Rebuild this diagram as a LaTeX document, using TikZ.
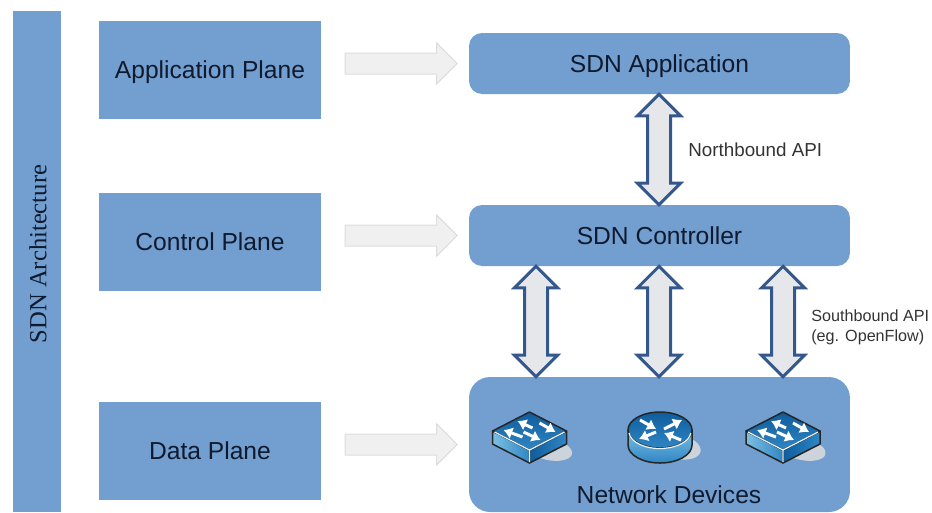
\documentclass[tikz,border=0pt]{standalone}
\usepackage{fontspec}
\setmainfont{Liberation Sans}
\newfontfamily\serifface{Liberation Serif}
\usetikzlibrary{calc,shapes.arrows,arrows.meta}
\definecolor{planeblue}{HTML}{729FCF}
\definecolor{inkblue}{HTML}{101A2E}
\definecolor{busline}{HTML}{34588C}
\definecolor{busfill}{HTML}{E6E7EB}
\definecolor{flowfill}{HTML}{F0F0F0}
\definecolor{flowline}{HTML}{DDDDDD}
\definecolor{chipdark}{HTML}{0F5C9C}
\definecolor{chipmid}{HTML}{2F86C4}
\definecolor{chiplight}{HTML}{7CC0E4}
\definecolor{iconshade}{HTML}{CDD3DA}
\tikzset{
	plane/.style = {fill=planeblue, minimum width=4.44cm, minimum height=1.96cm, text=inkblue, text height=10pt, text depth=0pt, font=\fontsize{14}{16}\selectfont},
	block/.style = {fill=planeblue, rounded corners=.26cm, minimum width=7.62cm, minimum height=1.22cm, text=inkblue, text height=10pt, text depth=0pt, font=\fontsize{14}{16}\selectfont},
	bus/.style = {double arrow, draw=busline, fill=busfill, line width=.06cm, minimum width=.8cm, double arrow head extend=.2cm, inner sep=.2cm, rotate=90},
	flow/.style = {single arrow, draw=flowline, fill=flowfill, line width=.02cm, minimum width=.8cm, single arrow head extend=.2cm, inner sep=.2cm, anchor=tail},
	apilabel/.style = {text=black!80, align=left, anchor=west, inner sep=0pt},
	chiparrow/.style = {white, line width=.06cm, -{Latex[length=5pt,width=7pt]}},
	chipedge/.style = {black!85, line width=.03cm, line join=round},
	chiprim/.style = {white!80!chiplight, line width=.025cm}
}
% vertical double arrow between two blocks
\newcommand{\busarrow}[3]{
	\path let \p1 = (#1.south -| #3), \p2 = (#2.north -| #3), \n1 = {veclen(\x1-\x2,\y1-\y2)} in
		node[bus, minimum height=\n1] (#3arrow) at ($ (\p1)!.5!(\p2) $) {};
}
% horizontal arrow in front of a block
\newcommand{\flowarrow}[2]{
	\node[flow, minimum height=2.24cm] (#1arrow) at ($ (#2.west)+(-124,0) $) {};
}
\newcommand{\switchicon}[1]{
	\begin{scope}[shift={(#1,0)}]
		\fill[iconshade, rotate around={-12:(19,449)}] (19,449) circle [x radius=24, y radius=11];
		\draw[chipedge, left color=chiplight, right color=chipmid] (-37,431) -- (0,450) -- (0,463) -- (-37,444) -- cycle;
		\draw[chipedge, left color=chipdark, right color=chipmid] (0,450) -- (37,431) -- (37,444) -- (0,463) -- cycle;
		\draw[chipedge, top color=chipdark, bottom color=chipmid] (0,412) -- (37,431) -- (0,450) -- (-37,431) -- cycle;
		\draw[chiprim] (-35,432) -- (0,450) -- (35,432) (0,450) -- (0,462);
		\draw[chiparrow] (-7,437) -- (-26,430);
		\draw[chiparrow] (3,428) -- (-12,421);
		\draw[chiparrow] (10,423) -- (26,432);
		\draw[chiparrow] (-6,432) -- (11,440);
	\end{scope}
}
\newcommand{\routericon}[1]{
	\begin{scope}[shift={(#1,0)}]
		\fill[iconshade, rotate around={-12:(19,447)}] (19,447) circle [x radius=22, y radius=12];
		\draw[chipedge, top color=chiplight, bottom color=chipmid] (-32,430) -- (-32,445) arc [start angle=180, end angle=0, x radius=32, y radius=18] -- (32,430) -- cycle;
		\draw[chipedge, top color=chipdark, bottom color=chipmid] (0,430) circle [x radius=32, y radius=18];
		\draw[chiprim] (-31,433) arc [start angle=175, end angle=5, x radius=31, y radius=17];
		\draw[chiparrow] (-20,420) -- (-4,429);
		\draw[chiparrow] (4,429) -- (22,420);
		\draw[chiparrow] (-4,432) -- (-21,439);
		\draw[chiparrow] (21,440) -- (4,433);
	\end{scope}
}

\begin{document}
\begin{tikzpicture}[x=.02cm, y=-.02cm]
	\useasboundingbox (0,0) rectangle (932,512);

	% Side bar
	\fill[planeblue] (13,11) rectangle (61,512);
	\node[rotate=90, text=inkblue, font=\serifface\fontsize{14}{16}\selectfont] (archlabel) at (38,254) {SDN Architecture};

	% Planes
	\node[plane] (appplane) at (210,69.5) {Application Plane};
	\node[plane] (ctlplane) at (210,242) {Control Plane};
	\node[plane] (dataplane) at (210,451) {Data Plane};

	% Blocks
	\node[block] (appblock) at (659.5,63.5) {SDN Application};
	\node[block] (ctlblock) at (659.5,235.5) {SDN Controller};
	\node[block, rounded corners=.42cm, minimum height=2.7cm] (netblock) at (659.5,444.5) {};
	\node[text=inkblue, font=\fontsize{14}{16}\selectfont] (netlabel) at (669,495) {Network Devices};

	% Arrows
	\flowarrow{app}{appblock}
	\flowarrow{ctl}{ctlblock}
	\flowarrow{data}{netblock}
	\coordinate (left) at (536,320);
	\coordinate (mid) at (659,320);
	\coordinate (right) at (783,320);
	\busarrow{appblock}{ctlblock}{mid}
	\busarrow{ctlblock}{netblock}{left}
	\busarrow{ctlblock}{netblock}{mid}
	\busarrow{ctlblock}{netblock}{right}

	% Labels
	\node[apilabel, font=\fontsize{10.7}{13}\selectfont] (northlabel) at (688,150) {Northbound API};
	\node[apilabel, font=\fontsize{9.2}{11.4}\selectfont] (southlabel) at (811,327) {Southbound API\\(eg. OpenFlow)};

	% Devices
	\switchicon{529.5}
	\routericon{660}
	\switchicon{783}
\end{tikzpicture}
\end{document}
